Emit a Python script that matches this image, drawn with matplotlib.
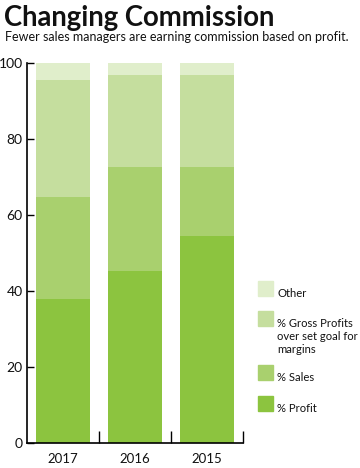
"""
    Stacked bar chart: how sales managers earn commission (2017, 2016, 2015).
"""

import numpy as np
import matplotlib.pyplot as plt
from matplotlib.patches import Rectangle

years = ["2017", "2016", "2015"]
profit = [38, 45.3, 54.6]
sales = [26.7, 27.4, 18.1]
gross = [30.9, 24.1, 24.1]
other = [4.4, 3.2, 3.2]

series_names = ["% Profit", "% Sales",
                "% Gross Profits\nover set goal for\nmargins", "Other"]
colors = ["#8cc43f", "#a9d06e", "#c5de9e", "#e0eecb"]
y_ticks = [0, 20, 40, 60, 80, 100]


def main():
    plt.rcParams['font.family'] = ['Lato', 'DejaVu Sans']
    fig = plt.figure(figsize=(3.6, 4.68), dpi=100)
    ax = fig.add_axes([0.075, 0.0534, 0.6, 0.812])

    x = np.arange(len(years))
    bottom = np.zeros(len(years))
    for vals, col in zip([profit, sales, gross, other], colors):
        ax.bar(x, vals, width=0.74, bottom=bottom, color=col, linewidth=0)
        bottom += np.array(vals)

    ax.set_xlim(-0.5, 2.5)
    ax.set_ylim(0, 100)
    ax.set_yticks(y_ticks)
    ax.set_yticklabels([str(t) for t in y_ticks], fontsize=10, color="#111111")
    ax.tick_params(axis="y", direction="in", length=5, width=1, pad=3)

    # year labels at bar centres, tick marks between bars
    ax.set_xticks(x + 0.5)
    ax.set_xticklabels([])
    ax.tick_params(axis="x", direction="in", length=9, width=1)
    for xi, yr in zip(x, years):
        ax.text(xi, -2.6, yr, ha="center", va="top", fontsize=9.5,
                color="#111111")

    for side in ["top", "right"]:
        ax.spines[side].set_visible(False)
    for side in ["left", "bottom"]:
        ax.spines[side].set_linewidth(1.2)

    # titles
    fig.text(0.012, 0.945, "Changing Commission", fontsize=19.8,
             fontweight="bold", color="#111111", va="baseline")
    fig.text(0.014, 0.912, "Fewer sales managers are earning commission based on profit.",
             fontsize=9, color="#111111", va="baseline")

    # legend drawn by hand, top entry first
    legend_y = [288, 318, 372, 403]
    for name, col, ly in zip(series_names[::-1], colors[::-1], legend_y):
        fig.patches.append(Rectangle((258 / 360, 1 - (ly + 8) / 468),
                                     15 / 360, 15 / 468, color=col,
                                     transform=fig.transFigure))
        fig.text(277 / 360, 1 - ly / 468, name, fontsize=8.1, va="top",
                 ha="left", color="#111111", linespacing=1.2)

    fig.savefig("out.png", dpi=100)


if __name__ == "__main__":
    main()
